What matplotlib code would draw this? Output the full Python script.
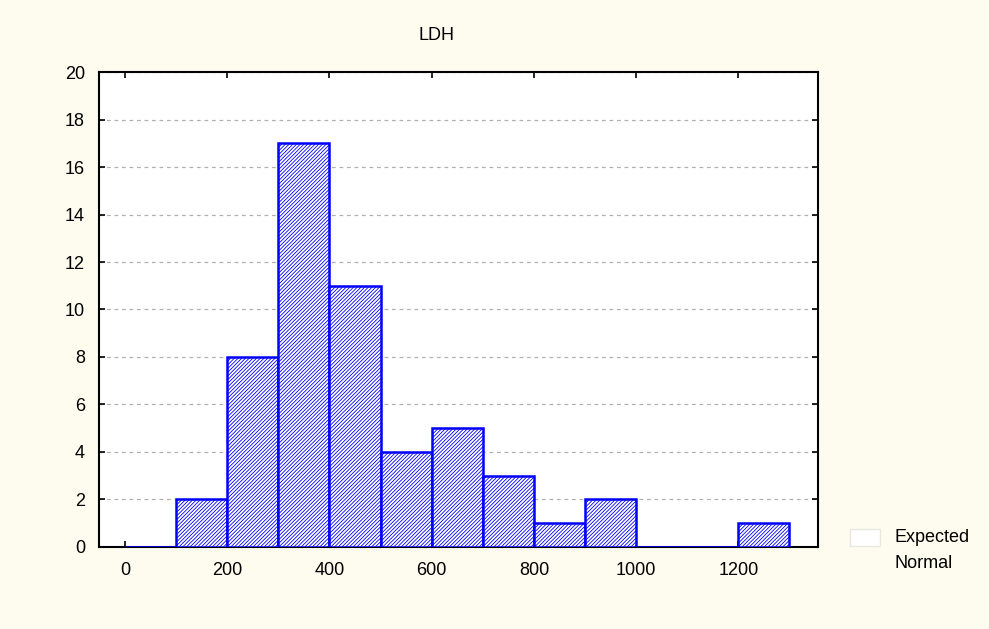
import matplotlib
matplotlib.use("Agg")
import matplotlib.pyplot as plt
from matplotlib.patches import Rectangle

bin_left = [0, 100, 200, 300, 400, 500, 600, 700, 800, 900, 1000, 1100, 1200]
counts = [0, 2, 8, 17, 11, 4, 5, 3, 1, 2, 0, 0, 1]
bin_width = 100
xticks = [0, 200, 400, 600, 800, 1000, 1200]
yticks = [0, 2, 4, 6, 8, 10, 12, 14, 16, 18, 20]

plt.rcParams['font.family'] = ['Liberation Sans', 'DejaVu Sans']
plt.rcParams['hatch.color'] = '#0000ff'
plt.rcParams['hatch.linewidth'] = 0.6

bg = '#fdfcef'
fig = plt.figure(figsize=(9.89, 6.29), dpi=100, facecolor=bg)
ax = fig.add_axes([0.1001, 0.1304, 0.727, 0.7551])
ax.set_facecolor('white')

ax.bar(bin_left, counts, width=bin_width, align='edge', facecolor='white',
       edgecolor='#0000ff', linewidth=1.8, hatch='/////////', zorder=3)

ax.set_xlim(-51, 1356)
ax.set_ylim(0, 20)
ax.set_xticks(xticks)
ax.set_yticks(yticks)
ax.yaxis.grid(True, linestyle=(0, (3, 3)), color='#b0b0b0', linewidth=0.9, zorder=0)
ax.tick_params(direction='in', length=4, width=1.2, labelsize=13, top=True, right=True)
ax.tick_params(axis='x', pad=11)
ax.tick_params(axis='y', pad=10)
for s in ax.spines.values():
    s.set_linewidth(1.5)
    s.set_color('black')

fig.text(437 / 989, 1 - 35 / 629, 'LDH', ha='center', va='center', fontsize=13)

fig.patches.append(Rectangle((850 / 989, 1 - 546 / 629), 30 / 989, 17 / 629,
                             transform=fig.transFigure, facecolor='white',
                             edgecolor='#e8e8e0', linewidth=1))
fig.text(895 / 989, 1 - 537 / 629, 'Expected', ha='left', va='center', fontsize=13)
fig.text(895 / 989, 1 - 563 / 629, 'Normal', ha='left', va='center', fontsize=13)

fig.savefig('out.png', dpi=100, facecolor=bg)
